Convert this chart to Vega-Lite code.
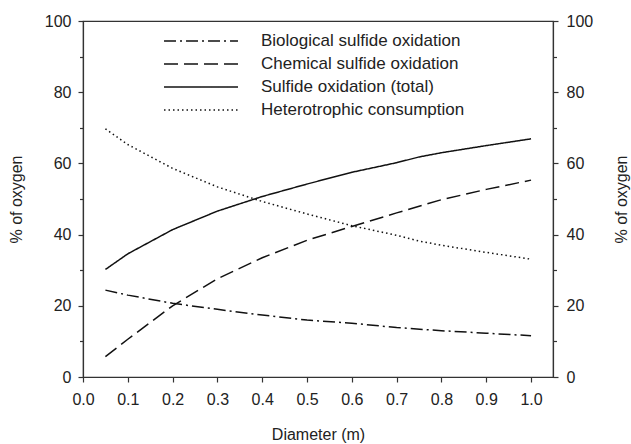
{
  "$schema": "https://vega.github.io/schema/vega-lite/v6.json",
  "width": 470,
  "height": 356,
  "autosize": "none",
  "padding": {"left": 83, "top": 21, "right": 78, "bottom": 67},
  "background": "white",
  "config": {
    "font": "Liberation Sans",
    "view": {"stroke": "#333", "strokeWidth": 1.2},
    "axis": {"domainColor": "#333", "tickColor": "#333", "labelColor": "#222", "titleColor": "#222", "labelFontSize": 16, "titleFontSize": 16, "titleFontWeight": "normal", "grid": false, "domainWidth": 1.2, "tickWidth": 1.2}
  },
  "data": {"values": [
    {"d": 0.05, "v": 24.4, "s": "Biological sulfide oxidation"},
    {"d": 0.1, "v": 23.0, "s": "Biological sulfide oxidation"},
    {"d": 0.2, "v": 20.7, "s": "Biological sulfide oxidation"},
    {"d": 0.3, "v": 19.0, "s": "Biological sulfide oxidation"},
    {"d": 0.4, "v": 17.4, "s": "Biological sulfide oxidation"},
    {"d": 0.5, "v": 16.0, "s": "Biological sulfide oxidation"},
    {"d": 0.6, "v": 15.1, "s": "Biological sulfide oxidation"},
    {"d": 0.7, "v": 13.9, "s": "Biological sulfide oxidation"},
    {"d": 0.8, "v": 13.0, "s": "Biological sulfide oxidation"},
    {"d": 0.9, "v": 12.3, "s": "Biological sulfide oxidation"},
    {"d": 1.0, "v": 11.6, "s": "Biological sulfide oxidation"},
    {"d": 0.05, "v": 5.7, "s": "Chemical sulfide oxidation"},
    {"d": 0.1, "v": 10.6, "s": "Chemical sulfide oxidation"},
    {"d": 0.2, "v": 20.0, "s": "Chemical sulfide oxidation"},
    {"d": 0.3, "v": 27.6, "s": "Chemical sulfide oxidation"},
    {"d": 0.4, "v": 33.5, "s": "Chemical sulfide oxidation"},
    {"d": 0.5, "v": 38.4, "s": "Chemical sulfide oxidation"},
    {"d": 0.6, "v": 42.3, "s": "Chemical sulfide oxidation"},
    {"d": 0.7, "v": 46.1, "s": "Chemical sulfide oxidation"},
    {"d": 0.8, "v": 49.8, "s": "Chemical sulfide oxidation"},
    {"d": 0.9, "v": 52.7, "s": "Chemical sulfide oxidation"},
    {"d": 1.0, "v": 55.3, "s": "Chemical sulfide oxidation"},
    {"d": 0.05, "v": 30.2, "s": "Sulfide oxidation (total)"},
    {"d": 0.1, "v": 34.6, "s": "Sulfide oxidation (total)"},
    {"d": 0.2, "v": 41.4, "s": "Sulfide oxidation (total)"},
    {"d": 0.3, "v": 46.6, "s": "Sulfide oxidation (total)"},
    {"d": 0.4, "v": 50.7, "s": "Sulfide oxidation (total)"},
    {"d": 0.5, "v": 54.2, "s": "Sulfide oxidation (total)"},
    {"d": 0.6, "v": 57.5, "s": "Sulfide oxidation (total)"},
    {"d": 0.7, "v": 60.2, "s": "Sulfide oxidation (total)"},
    {"d": 0.75, "v": 61.8, "s": "Sulfide oxidation (total)"},
    {"d": 0.8, "v": 63.0, "s": "Sulfide oxidation (total)"},
    {"d": 0.9, "v": 65.0, "s": "Sulfide oxidation (total)"},
    {"d": 1.0, "v": 66.9, "s": "Sulfide oxidation (total)"},
    {"d": 0.05, "v": 69.7, "s": "Heterotrophic consumption"},
    {"d": 0.1, "v": 65.3, "s": "Heterotrophic consumption"},
    {"d": 0.2, "v": 58.6, "s": "Heterotrophic consumption"},
    {"d": 0.3, "v": 53.4, "s": "Heterotrophic consumption"},
    {"d": 0.4, "v": 49.3, "s": "Heterotrophic consumption"},
    {"d": 0.5, "v": 45.8, "s": "Heterotrophic consumption"},
    {"d": 0.6, "v": 42.5, "s": "Heterotrophic consumption"},
    {"d": 0.7, "v": 39.8, "s": "Heterotrophic consumption"},
    {"d": 0.75, "v": 38.2, "s": "Heterotrophic consumption"},
    {"d": 0.8, "v": 37.0, "s": "Heterotrophic consumption"},
    {"d": 0.9, "v": 35.0, "s": "Heterotrophic consumption"},
    {"d": 1.0, "v": 33.1, "s": "Heterotrophic consumption"}
  ]},
  "layer": [
    {
      "mark": {"type": "line", "color": "#111", "strokeWidth": 1.5},
      "encoding": {
        "x": {"field": "d", "type": "quantitative", "scale": {"domain": [0, 1.049], "nice": false},
          "axis": {"title": "Diameter (m)", "values": [0, 0.1, 0.2, 0.3, 0.4, 0.5, 0.6, 0.7, 0.8, 0.9, 1.0], "format": ".1f", "tickSize": 5, "labelPadding": 9, "titlePadding": 19, "labelFlush": false}},
        "y": {"field": "v", "type": "quantitative", "scale": {"domain": [0, 100], "nice": false},
          "axis": {"title": "% of oxygen", "orient": "left", "values": [0, 10, 20, 30, 40, 50, 60, 70, 80, 90, 100], "labelExpr": "datum.value % 20 === 0 ? datum.label : ''", "tickSize": {"condition": {"test": "datum.value % 20 === 0", "value": 5}, "value": 3.5}, "labelPadding": 7, "titlePadding": 20}},
        "strokeDash": {"field": "s", "type": "nominal",
          "scale": {"domain": ["Biological sulfide oxidation", "Chemical sulfide oxidation", "Sulfide oxidation (total)", "Heterotrophic consumption"],
                    "range": [[12, 4, 2, 4], [14, 6], [1, 0], [1.5, 3]]},
          "legend": {"title": null, "orient": "none", "legendX": 108, "legendY": 10, "symbolType": "M-4,0H4", "symbolSize": 342, "symbolStrokeColor": "#111", "symbolStrokeWidth": 1.5, "symbolFillColor": "transparent", "labelFontSize": 17, "labelColor": "#222", "labelOffset": 50, "labelLimit": 0, "rowPadding": 5}}
      }
    },
    {
      "mark": {"type": "line", "opacity": 0},
      "encoding": {
        "x": {"field": "d", "type": "quantitative"},
        "y": {"field": "v", "type": "quantitative",
          "axis": {"title": "% of oxygen", "orient": "right", "values": [0, 10, 20, 30, 40, 50, 60, 70, 80, 90, 100], "labelExpr": "datum.value % 20 === 0 ? datum.label : ''", "tickSize": {"condition": {"test": "datum.value % 20 === 0", "value": 5}, "value": 3.5}, "labelPadding": 8, "titleAngle": 270, "titleBaseline": "middle", "titleX": 68, "titleY": 178}},
        "detail": {"field": "s"}
      }
    }
  ],
  "resolve": {"axis": {"y": "independent"}}
}
